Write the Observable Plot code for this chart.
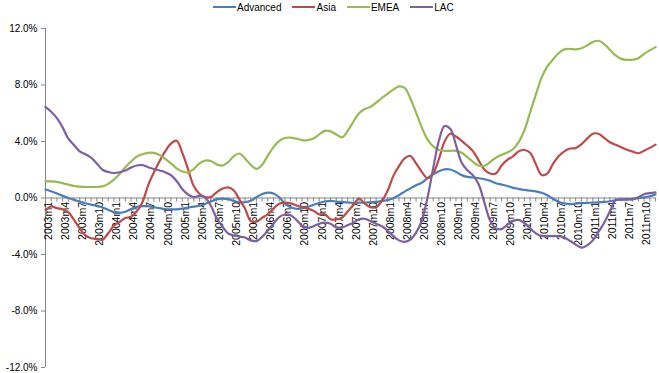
<!DOCTYPE html>
<html><head><meta charset="utf-8">
<script src="https://cdn.jsdelivr.net/npm/d3@7"></script>
<script src="https://cdn.jsdelivr.net/npm/@observablehq/plot@0.6"></script>
<style>
body{margin:0;background:#fff;font-family:Arial,"Liberation Sans",sans-serif;}
#wrap{position:relative;width:659px;height:373px;overflow:hidden;background:#fff}
#legend{position:relative;height:14px;font-size:10px;color:#000}
#legend .row{position:absolute;left:213px;top:0;height:14px;display:flex;align-items:center;gap:11px}
#legend .item{display:flex;align-items:center;height:14px}
#legend .sw{width:23px;height:2.5px;margin-right:1px}
#chart svg{display:block}
</style></head><body>
<div id="wrap"><div id="legend"></div><div id="chart"></div></div>
<script>
const years = [2003, 2004, 2005, 2006, 2007, 2008, 2009, 2010, 2011];
const monthNums = [1,2,3,4,5,6,7,8,9,10,11,12];
const months = years.flatMap(y => monthNums.map(m => `${y}m${m}`));

const seriesNames = ["Advanced", "Asia", "EMEA", "LAC"];
const seriesColors = ["#4A7EBB", "#BE4B48", "#98B954", "#7D60A0"];

const advanced = [
  0.6,0.48,0.32,0.15,0.0,-0.13,-0.25,-0.37,-0.47,-0.55,-0.67,-0.83,
  -1.02,-1.05,-0.97,-0.78,-0.63,-0.58,-0.58,-0.65,-0.72,-0.78,-0.8,-0.8,
  -0.75,-0.68,-0.61,-0.55,-0.42,-0.25,-0.1,-0.05,-0.08,-0.2,-0.3,-0.3,
  -0.2,0.05,0.28,0.38,0.32,0.05,-0.4,-0.65,-0.76,-0.74,-0.63,-0.48,
  -0.35,-0.25,-0.21,-0.25,-0.28,-0.31,-0.35,-0.33,-0.33,-0.3,-0.28,-0.2,
  -0.15,-0.02,0.2,0.45,0.68,0.9,1.08,1.4,1.68,1.9,2.03,2.02,
  1.85,1.62,1.5,1.45,1.4,1.33,1.22,1.05,0.95,0.85,0.72,0.65,
  0.57,0.52,0.47,0.37,0.2,-0.05,-0.26,-0.38,-0.43,-0.4,-0.36,-0.35,
  -0.33,-0.31,-0.28,-0.23,-0.16,-0.12,-0.1,-0.06,-0.01,0.04,0.12,0.25
];
const asia = [
  -0.85,-0.6,-0.72,-0.8,-1.0,-1.55,-2.15,-2.65,-2.85,-2.9,-2.95,-2.5,
  -1.95,-1.7,-1.42,-1.33,-0.95,-0.3,0.9,1.8,2.6,3.3,3.85,4.05,
  3.2,2.05,0.85,0.3,0.07,0.07,0.4,0.65,0.75,0.55,-0.1,-0.75,
  -1.64,-1.67,-1.4,-1.15,-0.75,-0.4,-0.33,-0.38,-0.52,-0.65,-0.75,-0.9,
  -1.16,-1.16,-1.5,-1.52,-1.4,-0.95,-0.5,-0.05,-0.4,-0.65,-0.65,-0.2,
  0.5,1.55,2.25,2.8,2.97,2.45,1.85,1.4,1.75,2.75,4.0,4.55,
  4.35,4.05,3.7,3.3,2.65,2.0,1.73,1.73,2.3,2.7,2.95,3.3,
  3.4,3.2,2.4,1.63,1.72,2.4,2.95,3.3,3.5,3.53,3.8,4.2,
  4.55,4.55,4.25,3.95,3.77,3.6,3.42,3.28,3.17,3.35,3.55,3.78
];
const emea = [
  1.2,1.18,1.14,1.05,0.95,0.85,0.8,0.78,0.78,0.78,0.82,1.0,
  1.3,1.7,2.17,2.58,2.93,3.1,3.2,3.2,3.05,2.77,2.45,2.1,
  1.87,1.8,2.05,2.45,2.65,2.62,2.38,2.3,2.52,2.95,3.15,2.8,
  2.35,2.06,2.35,3.0,3.6,4.05,4.25,4.28,4.2,4.1,4.1,4.22,
  4.5,4.75,4.72,4.5,4.3,4.75,5.4,6.0,6.3,6.45,6.75,7.08,
  7.38,7.67,7.9,7.8,7.05,6.05,5.0,4.15,3.65,3.4,3.34,3.34,
  3.34,3.2,2.9,2.55,2.28,2.28,2.55,2.85,3.05,3.22,3.45,3.95,
  4.8,6.05,7.3,8.5,9.3,9.8,10.25,10.52,10.55,10.52,10.6,10.8,
  11.05,11.13,10.9,10.5,10.1,9.85,9.78,9.79,9.9,10.2,10.45,10.68
];
const lac = [
  6.45,6.1,5.65,5.0,4.2,3.75,3.3,3.1,2.85,2.45,2.0,1.84,
  1.77,1.82,1.95,2.15,2.3,2.33,2.18,2.05,1.95,1.83,1.62,1.2,
  0.62,0.25,0.07,0.15,0.05,-0.55,-1.4,-2.0,-2.5,-2.65,-2.73,-2.8,
  -3.0,-3.05,-2.75,-2.3,-1.8,-1.35,-1.17,-1.22,-1.55,-1.95,-2.12,-2.0,
  -1.82,-1.75,-1.83,-2.08,-2.1,-1.92,-1.75,-1.5,-1.47,-1.64,-1.83,-2.0,
  -2.3,-2.7,-3.0,-3.1,-2.95,-2.45,-1.6,0.0,2.1,4.05,5.1,4.9,
  3.75,2.5,1.97,1.6,0.95,-0.35,-1.6,-2.15,-2.2,-1.9,-1.62,-1.55,
  -1.77,-2.15,-2.5,-2.68,-2.7,-2.7,-2.7,-2.8,-3.03,-3.3,-3.52,-3.35,
  -3.0,-2.4,-1.75,-0.95,-0.15,-0.1,-0.1,-0.1,0.05,0.27,0.34,0.4
];

const yTicks = [-12, -8, -4, 0, 4, 8, 12];
const tickLabels = months.filter((d, i) => i % 3 === 0);

const seriesValues = [advanced, asia, emea, lac];
const rows = seriesNames.flatMap((s, k) =>
  months.map((m, i) => ({series: s, month: m, value: seriesValues[k][i]})));

// legend
const row = document.createElement("div");
row.className = "row";
seriesNames.forEach((s, k) => {
  const it = document.createElement("div");
  it.className = "item";
  it.innerHTML = `<span class="sw" style="background:${seriesColors[k]}"></span><span>${s}</span>`;
  row.appendChild(it);
});
document.getElementById("legend").appendChild(row);

const axisColor = "#868686";
const chart = Plot.plot({
  width: 659,
  height: 359,
  marginTop: 14,
  marginBottom: 6,
  marginLeft: 45,
  marginRight: 4,
  style: {fontFamily: "Arial, 'Liberation Sans', sans-serif", fontSize: "10px", color: "#000", background: "#fff"},
  x: {type: "point", domain: months, padding: 0, axis: null},
  y: {domain: [-12, 12], axis: null},
  color: {domain: seriesNames, range: seriesColors},
  marks: [
    Plot.ruleX([months[0]], {x: d => d, stroke: axisColor}),
    Plot.axisY({ticks: yTicks, tickFormat: d => d.toFixed(1) + "%", tickSize: 4, tickPadding: 4, stroke: axisColor, fill: "#000", fontSize: 10, label: null}),
    Plot.ruleY([0], {stroke: axisColor}),
    Plot.ruleX(months, {x: d => d, y1: () => 0, y2: () => 0, insetBottom: -4, stroke: axisColor}),
    Plot.text(tickLabels, {x: d => d, y: () => 0, text: d => d, rotate: -90, textAnchor: "end", dx: 3, dy: 4, fontSize: 10.5, fill: "#000"}),
    Plot.line(rows, {x: "month", y: "value", z: "series", stroke: "series", strokeWidth: 2.2, curve: "catmull-rom"})
  ]
});
document.getElementById("chart").appendChild(chart);
</script>
</body></html>
